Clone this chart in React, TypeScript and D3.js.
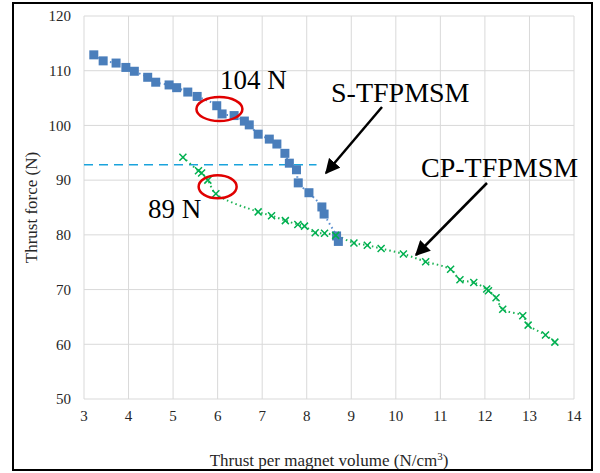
import React from 'react';
import * as d3 from 'd3';

// S-TFPMSM (blue squares)
const sX = [3.22, 3.43, 3.72, 3.94, 4.13, 4.43, 4.61, 4.91, 5.08, 5.33, 5.54, 5.98, 6.10, 6.37, 6.60, 6.71, 6.91, 7.16, 7.33, 7.51, 7.61, 7.77, 7.81, 8.05, 8.34, 8.39, 8.67, 8.71];
const sY = [112.9, 111.8, 111.4, 110.6, 109.9, 108.8, 107.9, 107.4, 106.9, 106.1, 105.3, 103.6, 102.1, 101.8, 100.8, 100.1, 98.4, 97.5, 96.6, 94.9, 93.1, 91.9, 89.5, 87.7, 85.1, 83.8, 79.8, 78.8];

// CP-TFPMSM (green crosses)
const cX = [5.22, 5.57, 5.64, 5.78, 5.96, 6.91, 7.21, 7.52, 7.80, 7.95, 8.19, 8.40, 8.65, 9.06, 9.36, 9.67, 10.17, 10.67, 11.23, 11.44, 11.75, 12.04, 12.08, 12.25, 12.40, 12.85, 12.97, 13.36, 13.57];
const cY = [94.2, 91.7, 91.3, 90.0, 87.5, 84.2, 83.5, 82.6, 81.9, 81.6, 80.4, 80.3, 79.9, 78.5, 78.1, 77.5, 76.5, 75.1, 73.7, 71.8, 71.3, 70.1, 69.8, 68.5, 66.4, 65.2, 63.5, 61.7, 60.4];

const xTicks = [3, 4, 5, 6, 7, 8, 9, 10, 11, 12, 13, 14];
const yTicks = [50, 60, 70, 80, 90, 100, 110, 120];

const refLevel = 92.8;
const refEnd = 8.22;

const font = "'Liberation Serif', 'Times New Roman', Times, serif";

const App = () => {
  const W = 600;
  const H = 473;
  const x = d3.scaleLinear().domain([3, 14]).range([84, 574]);
  const y = d3.scaleLinear().domain([50, 120]).range([399, 16]);

  const sPts: [number, number][] = sX.map((v, i) => [x(v), y(sY[i])]);
  const cPts: [number, number][] = cX.map((v, i) => [x(v), y(cY[i])]);
  const line = d3.line().curve(d3.curveCatmullRom.alpha(0.5));

  const sq = 9;
  const cr = 3.5;

  return (
    <svg width={W} height={H} style={{ position: 'absolute', left: 0, top: 0, fontFamily: font }}>
      <defs>
        <marker id="arr" viewBox="0 0 10 10" refX="9" refY="5" markerWidth="6" markerHeight="6" orient="auto" markerUnits="strokeWidth">
          <path d="M0,0 L10,5 L0,10 z" fill="#000" />
        </marker>
      </defs>
      <rect x={13} y={3} width={579} height={467} fill="#fff" stroke="#000" strokeWidth={2} />

      {/* grid */}
      <g stroke="#d9d9d9" strokeWidth={1}>
        {xTicks.map(t => <line key={'gx' + t} x1={x(t)} x2={x(t)} y1={y(120)} y2={y(50)} />)}
        {yTicks.map(t => <line key={'gy' + t} x1={x(3)} x2={x(14)} y1={y(t)} y2={y(t)} />)}
      </g>

      {/* tick labels */}
      <g style={{ fontSize: 15 }} fill="#262626">
        {yTicks.map(t => <text key={'ty' + t} x={71} y={y(t)} dy="0.35em" textAnchor="end">{t}</text>)}
        {xTicks.map(t => <text key={'tx' + t} x={x(t)} y={421} textAnchor="middle">{t}</text>)}
      </g>

      <text x={x(8.5)} y={466} textAnchor="middle" style={{ fontSize: 17 }} fill="#262626">
        Thrust per magnet volume (N/cm<tspan dy="-6" style={{ fontSize: 11 }}>3</tspan><tspan dy="6">)</tspan>
      </text>
      <text transform={`translate(37,${y(85)}) rotate(-90)`} textAnchor="middle" style={{ fontSize: 17 }} fill="#262626">Thrust force (N)</text>

      {/* reference dashed line */}
      <line x1={x(3)} x2={x(refEnd)} y1={y(refLevel)} y2={y(refLevel)} stroke="#1aa3dc" strokeWidth={1.5} strokeDasharray="9,6" />

      {/* series lines */}
      <path d={line(sPts) || ''} fill="none" stroke="#5b8fd0" strokeWidth={2} strokeDasharray="1.5,3" />
      <path d={line(cPts) || ''} fill="none" stroke="#1fb356" strokeWidth={2} strokeDasharray="1.5,3" />

      {/* markers */}
      {sPts.map((p, i) => <rect key={'s' + i} x={p[0] - sq / 2} y={p[1] - sq / 2} width={sq} height={sq} fill="#4a7ebb" />)}
      {cPts.map((p, i) => (
        <path key={'c' + i} d={`M${p[0] - cr},${p[1] - cr}L${p[0] + cr},${p[1] + cr}M${p[0] - cr},${p[1] + cr}L${p[0] + cr},${p[1] - cr}`} stroke="#00b050" strokeWidth={1.5} fill="none" />
      ))}

      {/* annotations */}
      <ellipse cx={x(6.04)} cy={y(103.0)} rx={23} ry={12} fill="none" stroke="#e00000" strokeWidth={2.5} />
      <ellipse cx={x(6.0)} cy={y(88.8)} rx={19} ry={11.5} fill="none" stroke="#e00000" strokeWidth={2.5} />
      <text x={220} y={89} style={{ fontSize: 27 }} fill="#000">104 N</text>
      <text x={148} y={218} style={{ fontSize: 27 }} fill="#000">89 N</text>
      <text x={331} y={102} style={{ fontSize: 28 }} fill="#000">S-TFPMSM</text>
      <text x={421} y={177} style={{ fontSize: 28 }} fill="#000">CP-TFPMSM</text>
      <line x1={382} y1={107} x2={326} y2={173} stroke="#000" strokeWidth={2.5} markerEnd="url(#arr)" />
      <line x1={487} y1={183} x2={416} y2={255} stroke="#000" strokeWidth={2.5} markerEnd="url(#arr)" />
    </svg>
  );
};

export default App;
